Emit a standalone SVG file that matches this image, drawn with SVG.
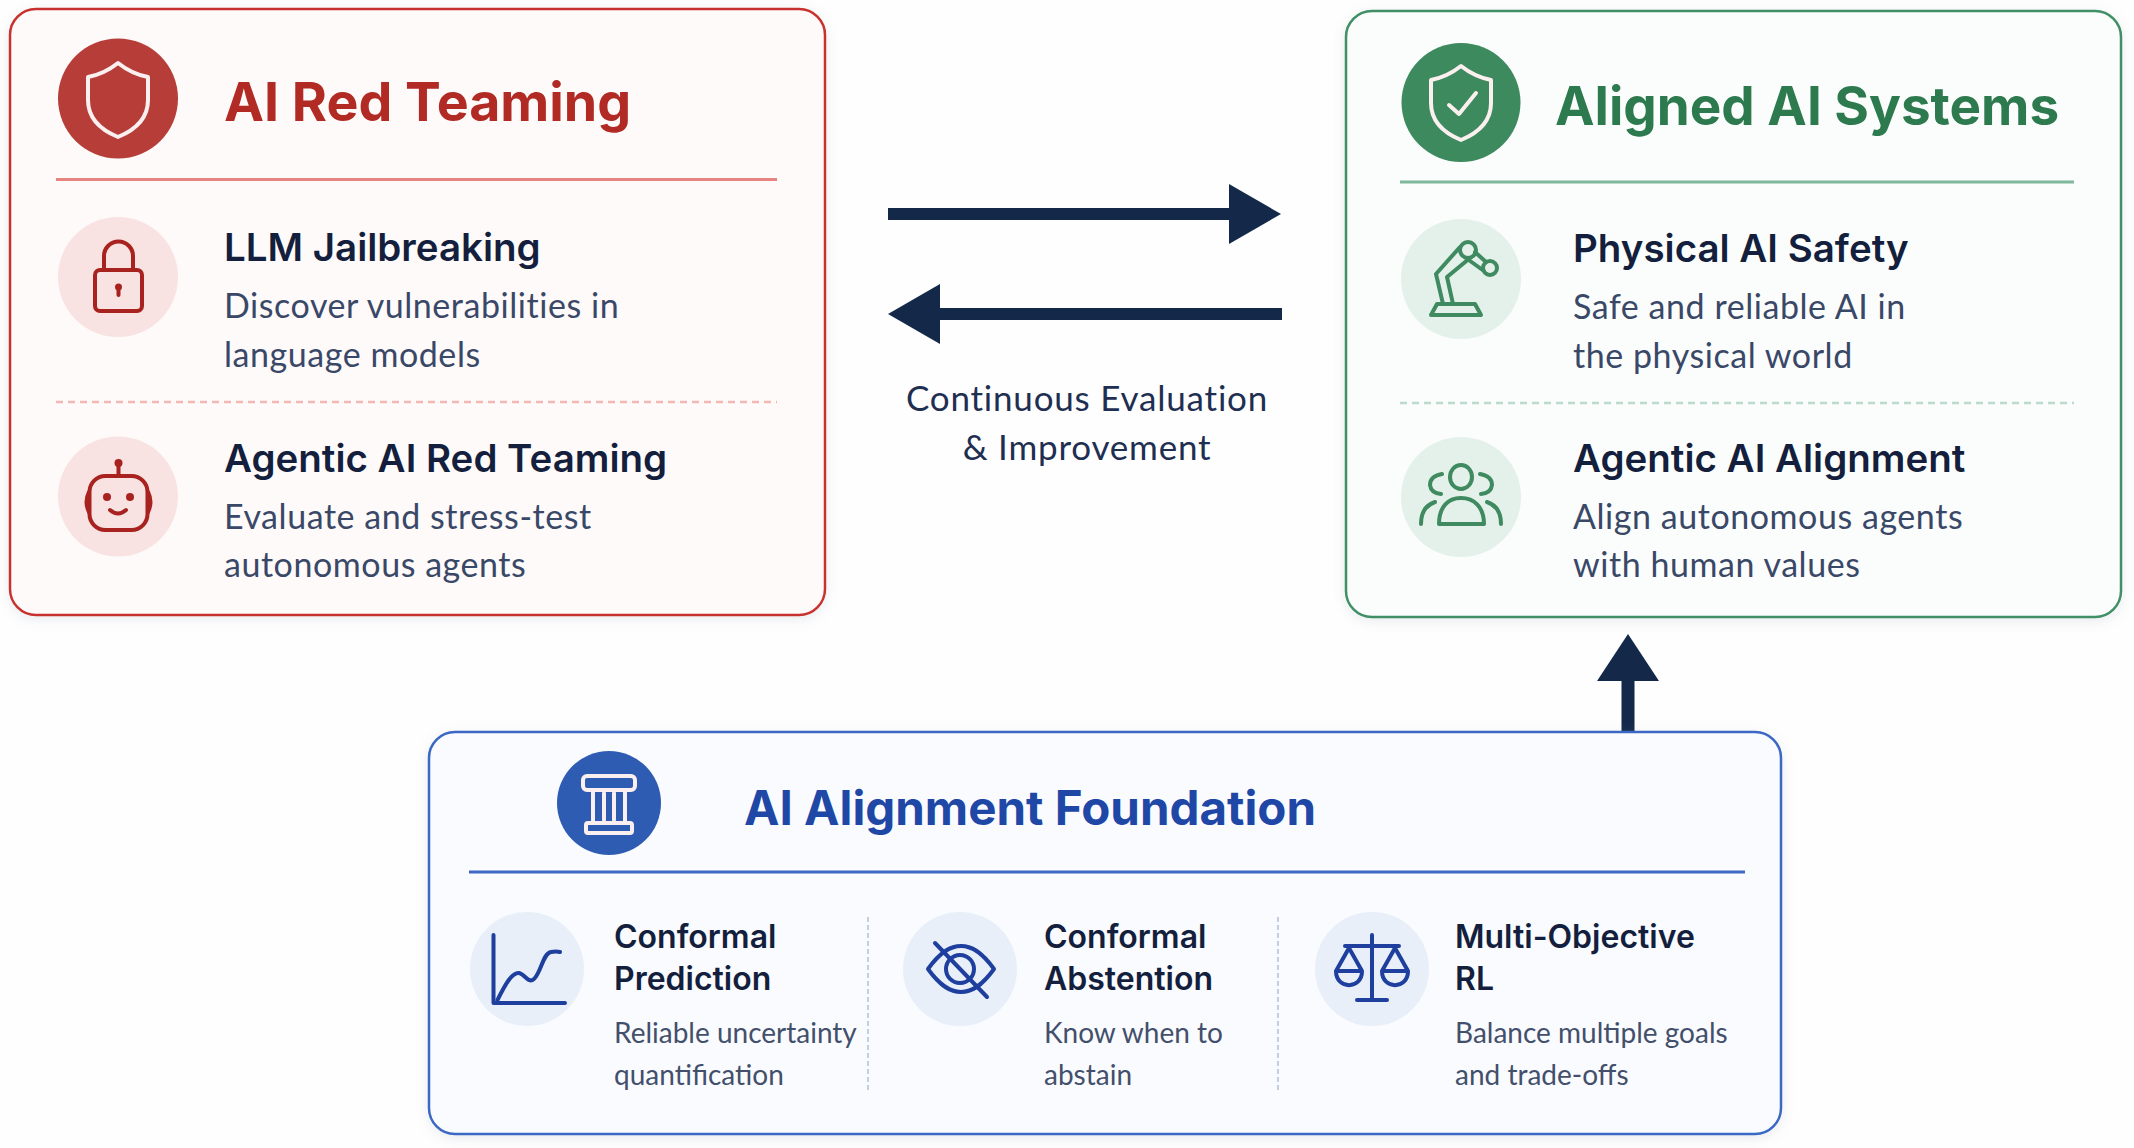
<svg xmlns="http://www.w3.org/2000/svg" width="2134" height="1148" viewBox="0 0 2134 1148">
<style>
text{font-family:"Inter","Liberation Sans",sans-serif}
.h{font-weight:700;font-size:53px}
.h2{font-weight:700;font-size:47.500px;fill:#1f47a6}
.t{font-weight:600;font-size:38.500px;fill:#141f3d}
.d{font-family:"Lato","Liberation Sans",sans-serif;font-size:34px;letter-spacing:.55px;fill:#3a4868}
.t2{font-weight:600;font-size:32px;fill:#141f3d}
.d2{font-family:"Lato","Liberation Sans",sans-serif;font-size:28px;fill:#434f6b}
.l{font-family:"Lato","Liberation Sans",sans-serif;font-size:35px;letter-spacing:.8px;fill:#1e2f52;text-anchor:middle}
.card{stroke-width:2.5;filter:url(#sh)}
.ic{fill:none;stroke-width:4;stroke-linecap:round;stroke-linejoin:round}
.w{fill:none;stroke:#fbf0ef;stroke-width:4;stroke-linejoin:round;stroke-linecap:round}
.r{stroke:#a8231f}.g{stroke:#3f8a60}.b{stroke:#1e3f9e}
</style>
<defs>
<filter id="sh" x="-5%" y="-5%" width="110%" height="110%"><feDropShadow dx="0" dy="3" stdDeviation="6" flood-color="#7a8aa0" flood-opacity=".16"/></filter>
<marker id="ah" markerUnits="userSpaceOnUse" markerWidth="52" markerHeight="60" refX="0" refY="30" orient="auto"><path d="M0 0L52 30L0 60Z" fill="#14294a"/></marker>
<marker id="au" markerUnits="userSpaceOnUse" markerWidth="47" markerHeight="62" refX="0" refY="31" orient="auto"><path d="M0 0L47 31L0 62Z" fill="#14294a"/></marker>
</defs>
<rect width="2134" height="1148" fill="#fefefe"/>
<g id="connectors" fill="none" stroke="#14294a">
<path d="M888 214H1229" stroke-width="12" marker-end="url(#ah)"/>
<path d="M1282 314H940" stroke-width="12" marker-end="url(#ah)"/>
<path d="M1628 731V681" stroke-width="13" marker-end="url(#au)"/>
</g>
<g id="edge-label"><text class="l" x="1087" y="411">Continuous Evaluation</text><text class="l" x="1087" y="460">&amp; Improvement</text></g>
<g id="red-team">
<rect class="card" x="10" y="9" width="815" height="606" rx="26" fill="#fefafa" stroke="#c8322d"/>
<circle cx="118" cy="98.500" r="60" fill="#b73d38"/>
<path class="w" d="M118 63C128 71 137 75 148 77V100C148 118 135 130 118 137C101 130 88 118 88 100V77C99 75 108 71 118 63Z"/>
<text class="h" style="font-size:53.700px" x="224" y="121" fill="#b12a24">AI Red Teaming</text>
<path d="M56 179.500H777" stroke="#e8847f" stroke-width="3"/>
<circle cx="118" cy="277" r="60" fill="#f8e3e2"/>
<g class="ic r"><rect x="95" y="270" width="47" height="41" rx="5"/><path d="M104 270V256A14.500 14.500 0 0 1 133 256V270"/><path d="M118.500 288V295"/></g>
<circle cx="118.500" cy="287" r="3.500" fill="#a8231f"/>
<text class="t" x="224" y="261">LLM Jailbreaking</text>
<text class="d" x="224" y="318">Discover vulnerabilities in</text>
<text class="d" x="224" y="367">language models</text>
<path d="M56 402H777" stroke="#f3b7b4" stroke-width="2.500" stroke-dasharray="7 5"/>
<circle cx="118" cy="496.500" r="60" fill="#f8e3e2"/>
<g class="ic r"><rect x="89.500" y="476" width="58" height="54" rx="16"/><path d="M118.500 476V466M89 492Q84 502 89 512M148 492Q153 502 148 512M110 510Q118 517 126 510"/></g>
<g fill="#a8231f"><circle cx="118.500" cy="463" r="4"/><circle cx="107" cy="497" r="4"/><circle cx="130" cy="497" r="4"/></g>
<text class="t" x="224" y="472">Agentic AI Red Teaming</text>
<text class="d" x="224" y="528.500">Evaluate and stress-test</text>
<text class="d" x="224" y="577">autonomous agents</text>
</g>
<g id="aligned">
<rect class="card" x="1346" y="11" width="775" height="606" rx="26" fill="#fbfdfc" stroke="#3f8f65"/>
<circle cx="1461" cy="102.500" r="59.500" fill="#3d8a5f"/>
<path class="w" d="M1461 66C1471 74 1481 78 1491 80V103C1491 121 1478 133 1461 140C1444 133 1431 121 1431 103V80C1441 78 1451 74 1461 66Z"/>
<path class="w" d="M1449 105L1459 114L1476 93"/>
<text class="h" x="1555" y="125" fill="#2c7a4e">Aligned AI Systems</text>
<path d="M1400 182H2074" stroke="#7fb89a" stroke-width="3"/>
<circle cx="1461" cy="279" r="60" fill="#e4f1ea"/>
<g class="ic g" stroke-width="3.500"><path d="M1431 315L1437 304H1475L1481 315Z"/><path d="M1443 304L1436 274L1460 247M1453 304L1447 277L1470 258"/><circle cx="1468" cy="250" r="8"/><path d="M1475 252L1486 262M1466 258L1484 271"/><circle cx="1490" cy="268" r="7"/></g>
<text class="t" x="1573" y="262">Physical AI Safety</text>
<text class="d" x="1573" y="319">Safe and reliable AI in</text>
<text class="d" x="1573" y="368">the physical world</text>
<path d="M1400 403H2074" stroke="#bcdccb" stroke-width="2.500" stroke-dasharray="7 5"/>
<circle cx="1461" cy="497" r="60" fill="#e4f1ea"/>
<g class="ic g"><ellipse cx="1461" cy="477" rx="11" ry="12"/><path d="M1439 524C1439 507 1448 498 1461 498C1474 498 1484 507 1484 524Z"/><path d="M1442 474Q1430 476 1430 485Q1431 493 1441 494M1480 474Q1492 476 1492 485Q1491 493 1481 494M1421 524C1421 512 1426 505 1435 502M1501 524C1501 512 1496 505 1487 502"/></g>
<text class="t" x="1573" y="472">Agentic AI Alignment</text>
<text class="d" x="1573" y="528.500">Align autonomous agents</text>
<text class="d" x="1573" y="577">with human values</text>
</g>
<g id="foundation">
<rect class="card" x="429" y="732" width="1352" height="402" rx="26" fill="#f9fbff" stroke="#3a67c4"/>
<circle cx="609" cy="803" r="52" fill="#2f5cb3"/>
<g class="w"><rect x="583" y="776" width="52" height="14" rx="4"/><rect x="586" y="823" width="46" height="10" rx="2"/><path d="M593 790V823M625 790V823M604 793V820M614 793V820"/></g>
<text class="h2" x="744" y="825">AI Alignment Foundation</text>
<path d="M469 872H1745" stroke="#3f6ac2" stroke-width="3"/>
<circle cx="527" cy="969" r="57" fill="#e8eff9"/>
<g class="ic b"><path d="M493.500 935V1003H565"/><path d="M497.500 1000C505 985 512 972 519 973C525 974 528 984 534 979C541 973 543 953 551 952Q556 951 560 952"/></g>
<text class="t2" x="614" y="948">Conformal</text>
<text class="t2" x="614" y="990">Prediction</text>
<text class="d2" x="614" y="1043">Reliable uncertainty</text>
<text class="d2" x="614" y="1085">quantification</text>
<path d="M868 917V1090M1278 917V1090" stroke="#c3cede" stroke-width="2" stroke-dasharray="5 3"/>
<circle cx="960" cy="969" r="57" fill="#e8eff9"/>
<g class="ic b"><path d="M928 969C941 951 951 946 961 946C971 946 981 951 994 969C981 987 971 992 961 992C951 992 941 987 928 969Z"/><circle cx="960" cy="969" r="14"/><path d="M935 943L987 997"/></g>
<text class="t2" x="1044" y="948">Conformal</text>
<text class="t2" x="1044" y="990">Abstention</text>
<text class="d2" x="1044" y="1043">Know when to</text>
<text class="d2" x="1044" y="1085">abstain</text>
<circle cx="1372" cy="969" r="57" fill="#e8eff9"/>
<g class="ic b"><path d="M1372 935V1000M1357 1000H1387M1345 946H1399M1336 971L1349 948L1362 971M1382 971L1395 948L1408 971M1336 971H1362C1362 990 1336 990 1336 971ZM1382 971H1408C1408 990 1382 990 1382 971Z"/></g>
<text class="t2" x="1455" y="948">Multi-Objective</text>
<text class="t2" x="1455" y="990">RL</text>
<text class="d2" x="1455" y="1043">Balance multiple goals</text>
<text class="d2" x="1455" y="1085">and trade-offs</text>
</g>
</svg>
